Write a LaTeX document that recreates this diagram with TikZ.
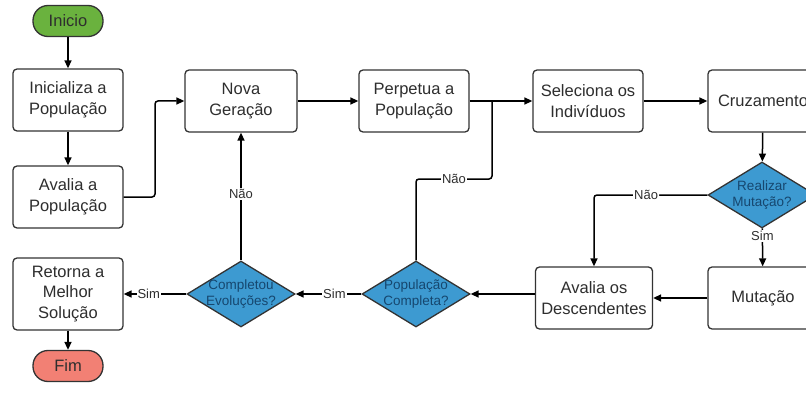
\documentclass[tikz,border=0pt]{standalone}
\usepackage{fontspec}
\setmainfont{Liberation Sans}
\usetikzlibrary{arrows.meta,shapes.geometric}
\definecolor{galine}{HTML}{333333}
\definecolor{gatext}{HTML}{2E2E2E}
\definecolor{gagreen}{HTML}{6AB23E}
\definecolor{gared}{HTML}{F28074}
\definecolor{gablue}{HTML}{3D9AD1}
\definecolor{gablued}{HTML}{16476F}
\tikzset{
  gabox/.style    = {draw=galine, fill=white, rounded corners=4pt, align=center,
                     font=\fontsize{16.5}{20.5}\selectfont, text=gatext,
                     line width=1.3pt, inner sep=2pt,
                     minimum width=110pt, minimum height=62pt},
  gaterm/.style   = {gabox, rounded corners=15pt, minimum width=70pt,
                     minimum height=31pt},
  gachoice/.style = {diamond, aspect=1.6, draw=galine, fill=gablue,
                     line width=1.3pt, text=gablued, align=center,
                     font=\fontsize{13.5}{16}\selectfont, inner sep=-3pt,
                     minimum width=108pt, minimum height=66pt},
  flow/.style     = {-{Triangle[length=8pt,width=7pt]}, draw=black,
                     line width=1.5pt},
  link/.style     = {draw=black, line width=1.5pt},
  lbl/.style      = {font=\fontsize{13}{14}\selectfont, fill=white,
                     inner sep=1pt, text=gatext},
}

\begin{document}
\begin{tikzpicture}[x=1pt, y=-1pt]

  \clip (0,0) rectangle (806,393);

  \node[gaterm, fill=gagreen] (inicio) at (68,21) {Inicio};
  \node[gabox] (inicializa) at (68,100) {Inicializa a\\População};
  \node[gabox] (avalia) at (68,197) {Avalia a\\População};
  \node[gabox, minimum height=72pt] (retorna) at (68,294)
    {Retorna a\\Melhor\\Solução};
  \node[gaterm, fill=gared] (fim) at (68,366) {Fim};

  \node[gabox, minimum width=112pt] (nova) at (241,101) {Nova\\Geração};
  \node[gabox] (perpetua)   at (414,101) {Perpetua a\\População};
  \node[gabox] (seleciona)  at (588,101) {Seleciona os\\Indivíduos};
  \node[gabox] (cruzamento) at (763,101) {Cruzamento};

  \node[gachoice] (realizar) at (762,195) {Realizar\\Mutação?};
  \node[gabox] (mutacao) at (763,298) {Mutação};
  \node[gabox, minimum width=117pt] (descendentes) at (594,298)
    {Avalia os\\Descendentes};
  \node[gachoice] (popcompleta) at (416,294) {População\\Completa?};
  \node[gachoice] (completou)   at (241,294) {Completou\\Evoluções?};

  \coordinate (dobra) at (155,150);
  \coordinate (laco)  at (492,179);
  \coordinate (junta) at (492,101);

  \draw[flow] (inicio) -- (inicializa);
  \draw[flow] (inicializa) -- (avalia);
  \draw[flow, rounded corners=3pt] (avalia.east) -| (dobra) |- (nova.west);
  \draw[flow] (nova) -- (perpetua);
  \draw[flow] (perpetua) -- (seleciona);
  \draw[flow] (seleciona) -- (cruzamento);
  \draw[flow] (cruzamento) -- (realizar);
  \draw[flow] (realizar) -- node[lbl, pos=0.2] {Sim} (mutacao);
  \draw[flow, rounded corners=3pt] (realizar.west) -|
    node[lbl, pos=0.27] {Não} (descendentes.north);
  \draw[flow] (mutacao) -- (descendentes);
  \draw[flow] (descendentes.west |- popcompleta) -- (popcompleta);
  \draw[flow] (popcompleta) -- node[lbl, pos=0.41] {Sim} (completou);
  \draw[flow] (completou) -- node[lbl, pos=0.6] {Sim} (retorna);
  \draw[flow] (retorna) -- (fim);
  \draw[flow] (completou) -- node[lbl, pos=0.52] {Não} (nova);

  % volta para a selecao quando a populacao nao esta completa
  \draw[link, rounded corners=3pt] (popcompleta.north) |-
    node[lbl, pos=0.75] {Não} (laco) -- (junta);

\end{tikzpicture}
\end{document}
